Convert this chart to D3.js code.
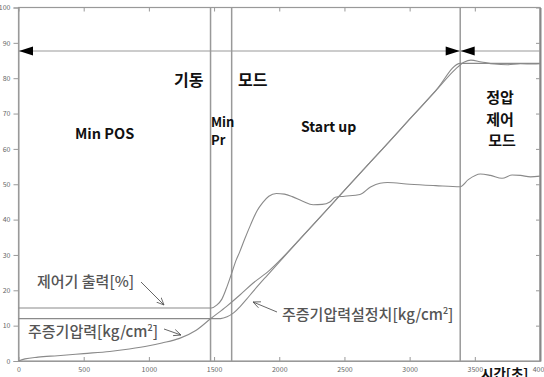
<!DOCTYPE html>
<html>
<head>
<meta charset="utf-8">
<script src="https://cdn.jsdelivr.net/npm/d3@7"></script>
<style>
  html, body { margin: 0; padding: 0; background: #fff; }
  svg { display: block; }
  text { font-family: "Noto Sans CJK KR", "Noto Sans", sans-serif; }
</style>
</head>
<body>
<svg id="chart" width="544" height="377"></svg>
<script>
// Time axis (s) and value axis
const xTicks = [0, 500, 1000, 1500, 2000, 2500, 3000, 3500, 4000];
const yTicks = [0, 10, 20, 30, 40, 50, 60, 70, 80, 90, 100];

// Controller output [%]
const outputTime  = [0, 1480, 1520, 1560, 1594, 1632, 1670, 1696, 1735, 1780, 1830, 1873, 1920, 1978, 2040, 2100, 2180, 2260, 2330, 2388, 2430, 2500, 2619, 2700, 2773, 2830, 3000, 3200, 3388, 3450, 3542, 3620, 3709, 3786, 3850, 3927, 4000];
const outputValue = [15, 15, 15.8, 17.5, 20.5, 24.5, 28.6, 30.8, 34.5, 38.5, 42.5, 44.8, 46.6, 47.4, 47.2, 46.5, 45.2, 44.2, 44.3, 45, 46.3, 46.6, 47.1, 49.2, 50.3, 50.5, 50.0, 49.6, 49.3, 51.3, 52.9, 52.5, 51.7, 52.6, 52.5, 52.1, 52.3];

// Main steam pressure [kg/cm2]
const pressureTime  = [0, 50, 150, 300, 500, 700, 850, 1000, 1100, 1235, 1363, 1478, 1594, 1696, 1798, 1927, 2000, 2200, 2400, 2600, 2800, 3000, 3200, 3350, 3420, 3470, 3550, 3650, 3750, 3850, 3950, 4000];
const pressureValue = [0, 0.6, 1.1, 1.5, 2.1, 2.7, 3.4, 4.3, 5.1, 6.4, 8.7, 12.1, 15.4, 18.6, 22, 25.7, 28.3, 36.2, 44.2, 52.3, 60.3, 68.4, 76.4, 82.5, 84.6, 85.1, 84.6, 84.0, 83.8, 84.1, 84.0, 84.1];

// Main steam pressure setpoint [kg/cm2]
const setpointTime  = [0, 1550, 1600, 1650, 1700, 1750, 1800, 1900, 2000, 2200, 2400, 2600, 2800, 3000, 3200, 3390, 4000];
const setpointValue = [12, 12, 12.5, 13.6, 15.4, 17.5, 19.7, 23.9, 28, 36.1, 44.2, 52.3, 60.3, 68.4, 76.5, 84.2, 84.2];

// Mode boundaries (s) and start-up mode level
const modeBounds = [1473, 1635, 3388];
const modeLevel = 87.7;

const svg = d3.select("#chart");
const x = d3.scaleLinear().domain([0, 4000]).range([18.5, 540]);
const y = d3.scaleLinear().domain([0, 100]).range([361, 7.5]);
const grey = "#8a8a8a";

// Frame
svg.append("rect")
  .attr("x", x(0)).attr("y", y(100))
  .attr("width", x(4000) - x(0)).attr("height", y(0) - y(100))
  .attr("fill", "none").attr("stroke", "#999").attr("stroke-width", 1.2);

// Axes
const tickFmt = d => d;
svg.append("g").attr("transform", `translate(${x(0)},0)`)
  .call(d3.axisLeft(y).tickValues(yTicks).tickSize(5).tickFormat(tickFmt))
  .call(g => g.select(".domain").attr("stroke", "#999"));
svg.append("g").attr("transform", `translate(0,${y(0)})`)
  .call(d3.axisBottom(x).tickValues(xTicks).tickSizeInner(-4).tickSizeOuter(0).tickPadding(6).tickFormat(tickFmt))
  .call(g => g.select(".domain").attr("stroke", "#999"));
svg.append("g").attr("transform", `translate(0,${y(100)})`)
  .call(d3.axisTop(x).tickValues(xTicks).tickSizeInner(-4).tickSizeOuter(0).tickFormat(""))
  .call(g => g.select(".domain").remove());
svg.append("g").attr("transform", `translate(${x(4000)},0)`)
  .call(d3.axisRight(y).tickValues(yTicks).tickSizeInner(-4).tickSizeOuter(0).tickFormat(""))
  .call(g => g.select(".domain").attr("stroke", "#888").attr("stroke-width", 2));
svg.selectAll(".tick line").attr("stroke", "#999");
svg.selectAll(".tick text").attr("fill", "#666").attr("font-size", 7)
  .attr("font-family", "DejaVu Sans, sans-serif");

// Mode boundary lines
svg.append("g").selectAll("line").data(modeBounds).join("line")
  .attr("x1", d => x(d)).attr("x2", d => x(d))
  .attr("y1", y(100)).attr("y2", y(0))
  .attr("stroke", "#999").attr("stroke-width", 1.5);

// Start-up mode span with arrowheads
svg.append("line")
  .attr("x1", x(0)).attr("x2", x(4000)).attr("y1", y(modeLevel)).attr("y2", y(modeLevel))
  .attr("stroke", "#999").attr("stroke-width", 1.2);
const ym = y(modeLevel);
const tri = (tip, dir) => `M${tip},${ym} L${tip + dir * 14},${ym - 4.5} L${tip + dir * 14},${ym + 4.5} Z`;
svg.append("path").attr("d", tri(x(0) + 0.5, 1)).attr("fill", "#000");
svg.append("path").attr("d", tri(x(modeBounds[2]) - 0.5, -1)).attr("fill", "#000");
svg.append("path").attr("d", tri(x(modeBounds[2]) + 0.5, 1)).attr("fill", "#000");

// Series curves
const line = d3.line().x(d => x(d[0])).y(d => y(d[1])).curve(d3.curveMonotoneX);
const series = [
  [outputTime, outputValue],
  [setpointTime, setpointValue],
  [pressureTime, pressureValue]
];
series.forEach(([t, v]) => {
  svg.append("path")
    .attr("d", line(t.map((d, i) => [d, v[i]])))
    .attr("fill", "none").attr("stroke", grey).attr("stroke-width", 1.1);
});

// Mode labels
const label = (tx, ty, s, size, anchor) => svg.append("text")
  .attr("x", tx).attr("y", ty).attr("font-size", size).attr("font-weight", "bold")
  .attr("fill", "#111").attr("text-anchor", anchor || "start").text(s);
label(174, 86, "기동", 16);
label(238, 86, "모드", 16);
label(75, 139, "Min POS", 14.5);
label(211, 127, "Min", 13);
label(211, 145, "Pr", 13);
label(301, 132, "Start up", 14);
label(500, 103, "정압", 15, "middle");
label(500, 124.5, "제어", 15, "middle");
label(502, 146, "모드", 15, "middle");
label(481, 379, "시간[초]", 13.5);

// Series annotations with arrows
svg.append("defs").append("marker")
  .attr("id", "head").attr("viewBox", "0 0 10 10").attr("refX", 9).attr("refY", 5)
  .attr("markerWidth", 9).attr("markerHeight", 9).attr("orient", "auto")
  .append("path").attr("d", "M0,1 L9,5 L0,9").attr("fill", "none")
  .attr("stroke", "#555").attr("stroke-width", 1);

const note = (tx, ty, parts) => {
  const t = svg.append("text").attr("x", tx).attr("y", ty)
    .attr("font-size", 15).attr("font-weight", 500).attr("fill", "#555");
  parts.forEach(p => {
    const s = t.append("tspan").text(p.s);
    if (p.sup) s.attr("font-size", 9).attr("dy", -6);
    if (p.down) s.attr("dy", 6);
  });
};
note(37, 287, [{ s: "제어기 출력[%]" }]);
note(28, 337, [{ s: "주증기압력[kg/cm" }, { s: "2", sup: true }, { s: "]", down: true }]);
note(282, 320, [{ s: "주증기압력설정치[kg/cm" }, { s: "2", sup: true }, { s: "]", down: true }]);

const arrow = (x1, y1, x2, y2) => svg.append("line")
  .attr("x1", x1).attr("y1", y1).attr("x2", x2).attr("y2", y2)
  .attr("stroke", "#555").attr("stroke-width", 0.9).attr("marker-end", "url(#head)");
arrow(141, 282, 164, 305);
arrow(164, 329, 181, 335);
arrow(277, 312, 253, 302);
</script>
</body>
</html>
